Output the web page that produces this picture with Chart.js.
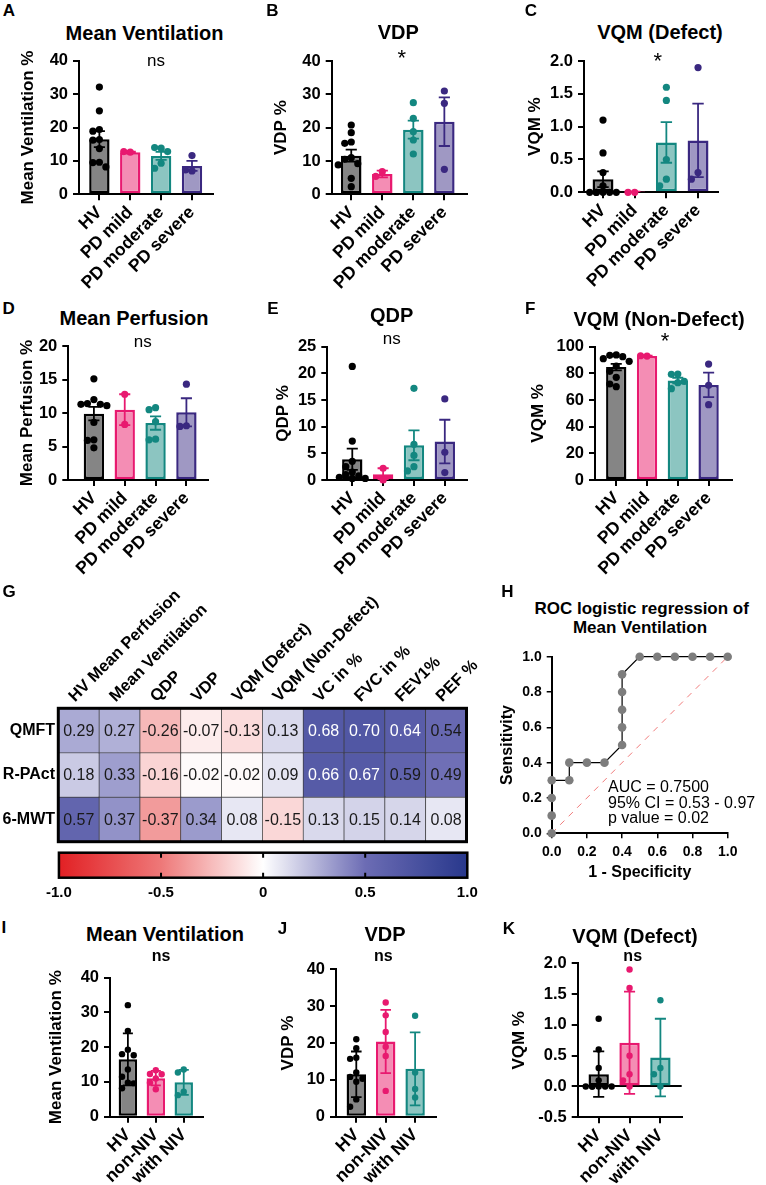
<!DOCTYPE html>
<html>
<head>
<meta charset="utf-8">
<script src="https://cdn.jsdelivr.net/npm/chart.js@4.4.0/dist/chart.umd.min.js"></script>
<style>
  body { margin: 0; background: #fff; }
  #fig { position: relative; width: 766px; height: 1185px; overflow: hidden; background: #fff;
         font-family: "Liberation Sans", Arial, sans-serif; color: #000; }
  #fig canvas { position: absolute; }
  .t { position: absolute; transform: translate(-50%, -50%); white-space: nowrap; line-height: 1; }
  .lt { font-weight: bold; font-size: 17px; }
  .ti { font-weight: bold; font-size: 20px; }
  .ns { font-size: 17px; }
  .st { font-size: 22px; }
  .nb { font-weight: bold; font-size: 16px; }
  .rt { font-weight: bold; font-size: 17px; }
  .an { position: absolute; left: 608px; font-size: 16px; white-space: nowrap; line-height: 1; transform: translateY(-50%); }
</style>
</head>
<body>
<div id="fig">
  <canvas id="cA"></canvas><canvas id="cB"></canvas><canvas id="cC"></canvas>
  <canvas id="cD"></canvas><canvas id="cE"></canvas><canvas id="cF"></canvas>
  <canvas id="cG"></canvas><canvas id="cBar"></canvas><canvas id="cH"></canvas>
  <canvas id="cI"></canvas><canvas id="cJ"></canvas><canvas id="cK"></canvas>

  <!-- panel letters, titles, significance -->
  <div class="t lt" style="left:9px;top:10px">A</div>
  <div class="t ti" style="left:144.5px;top:32.7px">Mean Ventilation</div>
  <div class="t ns" style="left:156px;top:59.5px">ns</div>

  <div class="t lt" style="left:272.5px;top:9.5px">B</div>
  <div class="t ti" style="left:398.3px;top:31.7px">VDP</div>
  <div class="t st" style="left:401.7px;top:58px">*</div>

  <div class="t lt" style="left:531px;top:9.7px">C</div>
  <div class="t ti" style="left:660px;top:31.7px">VQM (Defect)</div>
  <div class="t st" style="left:657.7px;top:61.3px">*</div>

  <div class="t lt" style="left:8.7px;top:307.8px">D</div>
  <div class="t ti" style="left:134px;top:318.3px">Mean Perfusion</div>
  <div class="t ns" style="left:142.7px;top:340.8px">ns</div>

  <div class="t lt" style="left:272.8px;top:308px">E</div>
  <div class="t ti" style="left:391.7px;top:315px">QDP</div>
  <div class="t ns" style="left:391.7px;top:337.5px">ns</div>

  <div class="t lt" style="left:530.3px;top:308px">F</div>
  <div class="t ti" style="left:659px;top:319px">VQM (Non-Defect)</div>
  <div class="t st" style="left:665px;top:340.6px">*</div>

  <div class="t lt" style="left:9.2px;top:590.8px">G</div>
  <div class="t lt" style="left:507.5px;top:590.8px">H</div>
  <div class="t rt" style="left:641.7px;top:608.3px">ROC logistic regression of</div>
  <div class="t rt" style="left:640px;top:626.7px">Mean Ventilation</div>
  <div class="an" style="top:787px">AUC = 0.7500</div>
  <div class="an" style="top:803.3px">95% CI = 0.53 - 0.97</div>
  <div class="an" style="top:817.5px">p value = 0.02</div>

  <div class="t lt" style="left:3.8px;top:926.7px">I</div>
  <div class="t ti" style="left:165px;top:934px">Mean Ventilation</div>
  <div class="t nb" style="left:161px;top:956px">ns</div>

  <div class="t lt" style="left:282.5px;top:928px">J</div>
  <div class="t ti" style="left:385px;top:934px">VDP</div>
  <div class="t nb" style="left:383.3px;top:955.5px">ns</div>

  <div class="t lt" style="left:509px;top:928px">K</div>
  <div class="t ti" style="left:635px;top:936px">VQM (Defect)</div>
  <div class="t nb" style="left:632.7px;top:956px">ns</div>
</div>

<script>
// ── groups ──
const groupsPD = ['HV', 'PD mild', 'PD moderate', 'PD severe'];
const groupsNIV = ['HV', 'non-NIV', 'with NIV'];

// ── A: mean ventilation (mean ± SEM) ──
const ventMean = [16.5, 12.6, 11.5, 8.5];
const ventSem = [2.4, 0.15, 1.2, 1.5];
const ventHV = [32.1, 25.0, 19.4, 18.9, 16.4, 16.2, 13.7, 9.6, 9.5, 8.2];
const ventMild = [12.6, 12.8];
const ventMod = [13.8, 14.0, 12.8, 9.3, 7.8];
const ventSev = [11.6, 7.0, 7.3];
const ventTicks = [0, 10, 20, 30, 40];

// ── B: VDP ──
const vdpMean = [11.6, 6.1, 19.4, 21.8];
const vdpSem = [1.8, 1.0, 2.7, 7.3];
const vdpHV = [20.8, 18.5, 15.7, 15.3, 11.0, 10.5, 9.2, 8.8, 4.8, 2.3];
const vdpMild = [6.8, 5.4];
const vdpMod = [27.5, 22.8, 18.8, 16.3, 12.1];
const vdpSev = [31.0, 27.3, 7.5];
const vdpTicks = [0, 10, 20, 30, 40];

// ── C: VQM (Defect) ──
const vqmdMean = [0.20, 0.01, 0.76, 0.79];
const vqmdSem = [0.12, 0.0, 0.31, 0.56];
const vqmdHV = [1.1, 0.6, 0.3, 0.1, 0.0, 0.0, 0.0, 0.0, 0.0, 0.0];
const vqmdMild = [0.0, 0.0];
const vqmdMod = [1.6, 1.4, 0.5, 0.2, 0.1];
const vqmdSev = [1.9, 0.3, 0.2];
const vqmdTicks = [0, 0.5, 1, 1.5, 2];

// ── D: mean perfusion ──
const perfMean = [9.9, 10.5, 8.5, 10.1];
const perfSem = [1.0, 2.3, 1.0, 2.1];
const perfHV = [15.1, 12.0, 11.4, 11.3, 11.3, 11.1, 8.6, 6.0, 5.9, 4.8];
const perfMild = [12.8, 8.3];
const perfMod = [10.8, 10.5, 8.7, 6.1, 6.0];
const perfSev = [14.3, 8.1, 8.0];
const perfTicks = [0, 5, 10, 15, 20];

// ── E: QDP ──
const qdpMean = [3.9, 1.1, 6.5, 7.2];
const qdpSem = [2.0, 1.1, 2.8, 4.1];
const qdpHV = [21.3, 7.3, 3.5, 2.5, 1.5, 1.0, 0.8, 0.5, 0.3, 0.3];
const qdpMild = [2.2, 0.0];
const qdpMod = [17.2, 6.7, 4.6, 2.5, 1.7];
const qdpSev = [15.2, 5.2, 1.4];
const qdpTicks = [0, 5, 10, 15, 20, 25];

// ── F: VQM (Non-Defect) ──
const vqmnMean = [84.7, 93.0, 74.6, 71.3];
const vqmnSem = [2.4, 0.3, 2.1, 9.2];
const vqmnHV = [93.8, 93.5, 92.5, 91.0, 89.0, 85.5, 81.5, 77.0, 72.0, 70.0];
const vqmnMild = [93.0, 93.2];
const vqmnMod = [79.5, 79.3, 74.0, 73.0, 68.5];
const vqmnSev = [87.0, 71.0, 56.5];
const vqmnTicks = [0, 20, 40, 60, 80, 100];

// ── G: correlation heatmap ──
const corrCols = ['HV Mean Perfusion', 'Mean Ventilation', 'QDP', 'VDP', 'VQM (Defect)',
                  'VQM (Non-Defect)', 'VC in %', 'FVC in %', 'FEV1%', 'PEF %'];
const corrRows = ['QMFT', 'R-PAct', '6-MWT'];
const corrQMFT = [0.29, 0.27, -0.26, -0.07, -0.13, 0.13, 0.68, 0.70, 0.64, 0.54];
const corrRPAct = [0.18, 0.33, -0.16, -0.02, -0.02, 0.09, 0.66, 0.67, 0.59, 0.49];
const corr6MWT = [0.57, 0.37, -0.37, 0.34, 0.08, -0.15, 0.13, 0.15, 0.14, 0.08];
const colorbarTicks = [-1, -0.5, 0, 0.5, 1];

// ── H: ROC ──
const rocFpr = [0, 0, 0, 0, 0.1, 0.1, 0.2, 0.3, 0.4, 0.4, 0.4, 0.4, 0.4, 0.5, 0.6, 0.7, 0.8, 0.9, 1.0];
const rocSens = [0, 0.1, 0.2, 0.3, 0.3, 0.4, 0.4, 0.4, 0.5, 0.6, 0.7, 0.8, 0.9, 1.0, 1.0, 1.0, 1.0, 1.0, 1.0];
const rocTicks = [0, 0.2, 0.4, 0.6, 0.8, 1];
const chanceX = [0, 1];
const chanceY = [0, 1];

// ── I: mean ventilation by NIV (mean ± SD) ──
const nivVentMean = [16.5, 11.1, 9.9];
const nivVentSd = [7.5, 2.1, 3.6];
const nivVentHV = [32.1, 24.7, 19.3, 18.0, 17.7, 13.6, 11.5, 9.8, 9.6, 8.2];
const nivVentNon = [13.4, 12.3, 12.2, 11.0, 9.8, 7.9];
const nivVentWith = [13.6, 12.7, 7.2, 6.2];

// ── J: VDP by NIV ──
const nivVdpMean = [11.5, 20.4, 13.0];
const nivVdpSd = [6.2, 8.6, 9.9];
const nivVdpHV = [21.0, 18.6, 16.0, 15.7, 12.0, 10.8, 10.3, 9.5, 4.7, 2.7];
const nivVdpNon = [31.0, 27.5, 23.0, 19.0, 16.5, 7.0];
const nivVdpWith = [27.4, 12.0, 7.5, 5.2];

// ── K: VQM (Defect) by NIV ──
const nivVqmMean = [0.20, 0.71, 0.47];
const nivVqmSd = [0.37, 0.83, 0.63];
const nivVqmHV = [1.1, 0.6, 0.3, 0.1, 0.0, 0.0, 0.0, 0.0, 0.0, 0.0];
const nivVqmNon = [1.9, 1.6, 0.5, 0.2, 0.1, 0.0];
const nivVqmWith = [1.4, 0.3, 0.2, 0.0];
const nivVqmTicks = [-0.5, 0, 0.5, 1, 1.5, 2];

Chart.defaults.font.family = '"Liberation Sans", Arial, sans-serif';
Chart.defaults.color = '#000';

// group colours (fill / outline+dots)
const pdFills = ['#858585', '#f48db4', '#8cc5c1', '#9f98c3'];
const pdLines = ['#000000', '#e8196f', '#138780', '#3a2880'];
const nivFills = pdFills.slice(0, 3);
const nivLines = pdLines.slice(0, 3);

// where each plot area sits on the page
const LAYOUT = {
  A: { ax: 79, right: 213.3, top: 60.7, bottom: 194.3, off: 50.7, xMin: -0.66, xMax: 3.69 },
  B: { ax: 331.7, right: 466.7, top: 61, bottom: 194.3, off: 50, xMin: -0.63, xMax: 3.72 },
  C: { ax: 584, right: 718, top: 61, bottom: 192.3, off: 48.3, xMin: -0.6, xMax: 3.63 },
  D: { ax: 68.3, right: 208.3, top: 346, bottom: 480, off: 40.6, xMin: -0.83, xMax: 3.71 },
  E: { ax: 327.3, right: 466.7, top: 346.7, bottom: 480, off: 44, xMin: -0.81, xMax: 3.71 },
  F: { ax: 595, right: 731.7, top: 346.7, bottom: 480, off: 56.7, xMin: -0.69, xMax: 3.75 },
  I: { ax: 110, right: 203.3, top: 977.7, bottom: 1116.7, off: 53.3, xMin: -0.64, xMax: 2.7 },
  J: { ax: 336, right: 435.7, top: 969.3, bottom: 1116.7, off: 47.7, xMin: -0.69, xMax: 2.7 },
  K: { ax: 577.7, right: 681.7, top: 963.3, bottom: 1117.3, off: 57.7, xMin: -0.68, xMax: 2.69 },
};

function place(canvas, r, lw, pt, pr, xh) {
  const left = Math.floor(r.ax - lw), top = Math.floor(r.top - pt);
  const width = Math.ceil(r.right + pr - left), height = Math.ceil(r.bottom + xh - top);
  canvas.style.left = left + 'px';
  canvas.style.top = top + 'px';
  canvas.width = width;
  canvas.height = height;
  return { yw: r.ax - left, padTop: r.top - top, padRight: left + width - r.right, xh: top + height - r.bottom };
}

// simple beeswarm: put a dot in the first free lane next to the bar centre
function swarm(vals, center, thr, step) {
  const lanes = [0, -1, 1, -2, 2];
  const placed = [];
  return vals.map(v => {
    let best = 0, bestHits = Infinity;
    for (const s of lanes) {
      const hits = placed.filter(p => p.s === s && Math.abs(p.v - v) < thr).length;
      if (hits < bestHits) { best = s; bestHits = hits; if (!hits) break; }
    }
    placed.push({ v, s: best });
    return { x: center + best * step, y: v };
  });
}

function errorBar(i, m, e, color, cw) {
  return {
    type: 'scatter', showLine: true, spanGaps: false, borderColor: color, borderWidth: 1.8,
    pointRadius: 0, order: 2,
    data: [
      { x: i, y: m - e }, { x: i, y: m + e }, { x: i, y: null },
      { x: i - cw, y: m + e }, { x: i + cw, y: m + e }, { x: i, y: null },
      { x: i - cw, y: m - e }, { x: i + cw, y: m - e },
    ],
  };
}

function barPanel(id, p) {
  const canvas = document.getElementById(id);
  const r = p.rect;
  const g = place(canvas, r, r.off + 10.2, 16, 12, 100);
  const yMin = p.yTicks[0], yMax = p.yTicks[p.yTicks.length - 1];
  const thr = 7.5 * (yMax - yMin) / (r.bottom - r.top);

  const datasets = [{
    type: 'bar',
    data: p.means.map((m, i) => ({ x: i, y: m })),
    backgroundColor: p.fills, borderColor: p.lines, borderWidth: 2.5, borderSkipped: false,
    barPercentage: 0.66, categoryPercentage: 1, order: 3,
  }];
  p.errs.forEach((e, i) => datasets.push(errorBar(i, p.means[i], e, p.lines[i], 0.18)));
  p.points.forEach((vals, i) => datasets.push({
    type: 'scatter', data: swarm(vals, i, thr, 0.21),
    backgroundColor: p.lines[i], pointRadius: p.dot, pointBorderWidth: 0, order: 1, clip: false,
  }));

  const zeroLine = !!p.zeroLine;
  new Chart(canvas, {
    type: 'bar',
    data: { datasets },
    options: {
      responsive: false, animation: false, devicePixelRatio: 1,
      layout: { padding: { top: g.padTop, right: g.padRight, left: 0, bottom: 0 } },
      plugins: { legend: { display: false }, tooltip: { enabled: false } },
      scales: {
        x: {
          type: 'linear', min: r.xMin, max: r.xMax, offset: false,
          afterBuildTicks: s => { s.ticks = p.labels.map((_, i) => ({ value: i })); },
          afterFit: s => { s.height = g.xh; },
          ticks: { callback: v => p.labels[v], minRotation: 45, maxRotation: 45, autoSkip: false,
                   padding: 2, font: { size: 17.5, weight: 'bold' }, color: '#000' },
          grid: { display: true, drawOnChartArea: false, drawTicks: true, tickLength: 6,
                  lineWidth: 2, color: '#000', offset: false },
          border: { display: true, color: '#000', width: 2 },
        },
        y: {
          type: 'linear', min: yMin, max: yMax,
          afterBuildTicks: s => { s.ticks = p.yTicks.map(v => ({ value: v })); },
          afterFit: s => { s.width = g.yw; },
          ticks: { callback: p.fmt, padding: 5, autoSkip: false,
                   font: { size: 16.5, weight: 'bold' }, color: '#000' },
          grid: {
            display: true, drawOnChartArea: zeroLine, drawTicks: true, tickLength: 6, lineWidth: 2,
            tickColor: '#000',
            color: c => (zeroLine && c.tick && Math.abs(c.tick.value) < 1e-9) ? '#000' : 'rgba(0,0,0,0)',
          },
          border: { display: true, color: '#000', width: 2 },
          title: { display: true, text: p.yTitle, font: { size: 17, weight: 'bold' }, padding: 0, color: '#000' },
        },
      },
    },
  });
}

const intFmt = v => String(Math.round(v));
const oneDec = v => v.toFixed(1);

barPanel('cA', { rect: LAYOUT.A, labels: groupsPD, means: ventMean, errs: ventSem,
  points: [ventHV, ventMild, ventMod, ventSev], fills: pdFills, lines: pdLines,
  yTicks: ventTicks, fmt: intFmt, yTitle: 'Mean Ventilation %', dot: 3.6 });
barPanel('cB', { rect: LAYOUT.B, labels: groupsPD, means: vdpMean, errs: vdpSem,
  points: [vdpHV, vdpMild, vdpMod, vdpSev], fills: pdFills, lines: pdLines,
  yTicks: vdpTicks, fmt: intFmt, yTitle: 'VDP %', dot: 3.6 });
barPanel('cC', { rect: LAYOUT.C, labels: groupsPD, means: vqmdMean, errs: vqmdSem,
  points: [vqmdHV, vqmdMild, vqmdMod, vqmdSev], fills: pdFills, lines: pdLines,
  yTicks: vqmdTicks, fmt: oneDec, yTitle: 'VQM %', dot: 3.6 });
barPanel('cD', { rect: LAYOUT.D, labels: groupsPD, means: perfMean, errs: perfSem,
  points: [perfHV, perfMild, perfMod, perfSev], fills: pdFills, lines: pdLines,
  yTicks: perfTicks, fmt: intFmt, yTitle: 'Mean Perfusion %', dot: 3.6 });
barPanel('cE', { rect: LAYOUT.E, labels: groupsPD, means: qdpMean, errs: qdpSem,
  points: [qdpHV, qdpMild, qdpMod, qdpSev], fills: pdFills, lines: pdLines,
  yTicks: qdpTicks, fmt: intFmt, yTitle: 'QDP %', dot: 3.6 });
barPanel('cF', { rect: LAYOUT.F, labels: groupsPD, means: vqmnMean, errs: vqmnSem,
  points: [vqmnHV, vqmnMild, vqmnMod, vqmnSev], fills: pdFills, lines: pdLines,
  yTicks: vqmnTicks, fmt: intFmt, yTitle: 'VQM %', dot: 3.6 });
barPanel('cI', { rect: LAYOUT.I, labels: groupsNIV, means: nivVentMean, errs: nivVentSd,
  points: [nivVentHV, nivVentNon, nivVentWith], fills: nivFills, lines: nivLines,
  yTicks: ventTicks, fmt: intFmt, yTitle: 'Mean Ventilation %', dot: 3.2 });
barPanel('cJ', { rect: LAYOUT.J, labels: groupsNIV, means: nivVdpMean, errs: nivVdpSd,
  points: [nivVdpHV, nivVdpNon, nivVdpWith], fills: nivFills, lines: nivLines,
  yTicks: vdpTicks, fmt: intFmt, yTitle: 'VDP %', dot: 3.2 });
barPanel('cK', { rect: LAYOUT.K, labels: groupsNIV, means: nivVqmMean, errs: nivVqmSd,
  points: [nivVqmHV, nivVqmNon, nivVqmWith], fills: nivFills, lines: nivLines,
  yTicks: nivVqmTicks, fmt: oneDec, yTitle: 'VQM %', dot: 3.2, zeroLine: true });

// ── heatmap colours: red → white → blue ──
function corrColor(v) {
  const stops = v < 0
    ? [[255, 255, 255], [238, 120, 120], [226, 32, 36]]
    : [[255, 255, 255], [108, 108, 180], [40, 56, 140]];
  const a = Math.min(Math.abs(v), 1) * 2;
  const k = a < 1 ? 0 : 1, f = a < 1 ? a : a - 1;
  const c = stops[k].map((s, j) => Math.round(s + (stops[k + 1][j] - s) * f));
  return `rgb(${c[0]},${c[1]},${c[2]})`;
}

const framePlugin = {
  id: 'frame',
  afterDatasetsDraw(chart, args, opts) {
    const { ctx, chartArea: a } = chart;
    ctx.save();
    ctx.strokeStyle = '#000';
    ctx.lineWidth = opts.width || 2;
    ctx.strokeRect(a.left, a.top, a.right - a.left, a.bottom - a.top);
    ctx.restore();
  },
};

const cellText = {
  id: 'cellText',
  afterDatasetsDraw(chart) {
    const ctx = chart.ctx;
    ctx.save();
    ctx.font = '16px "Liberation Sans", Arial, sans-serif';
    ctx.textAlign = 'center';
    ctx.textBaseline = 'middle';
    chart.data.datasets.forEach((ds, r) => {
      chart.getDatasetMeta(r).data.forEach((el, c) => {
        const v = ds.values[c];
        ctx.fillStyle = v >= 0.6 ? '#fff' : '#1a1a1a';
        ctx.fillText(v.toFixed(2), el.x, (el.y + el.base) / 2 + 1);
      });
    });
    ctx.restore();
  },
};

// ── G: heatmap ──
(function () {
  const canvas = document.getElementById('cG');
  const r = { ax: 58.3, right: 466.5, top: 708.3, bottom: 841.7 };
  const left = 0, top = 585, width = 497, height = 271;
  canvas.style.left = left + 'px';
  canvas.style.top = top + 'px';
  canvas.width = width;
  canvas.height = height;
  const rowsData = [corrQMFT, corrRPAct, corr6MWT];
  new Chart(canvas, {
    type: 'bar',
    data: {
      labels: corrCols,
      datasets: rowsData.map((vals, ri) => ({
        values: vals,
        data: vals.map(() => [ri - 0.5, ri + 0.5]),
        backgroundColor: vals.map(corrColor),
        borderColor: '#3a3a3a', borderWidth: 0.7, borderSkipped: false,
        barPercentage: 1, categoryPercentage: 1, grouped: false,
      })),
    },
    options: {
      responsive: false, animation: false, devicePixelRatio: 1,
      layout: { padding: { top: 0, left: 0, right: left + width - r.right, bottom: top + height - r.bottom } },
      plugins: { legend: { display: false }, tooltip: { enabled: false }, frame: { width: 3 } },
      scales: {
        x: {
          type: 'category', position: 'top', offset: true,
          afterFit: s => { s.height = r.top - top; },
          ticks: { minRotation: 45, maxRotation: 45, autoSkip: false, padding: 2, labelOffset: 7,
                   font: { size: 16.5, weight: 'bold' }, color: '#000' },
          grid: { display: false, drawTicks: false },
          border: { display: false },
        },
        y: {
          type: 'linear', min: -0.5, max: 2.5, reverse: true,
          afterBuildTicks: s => { s.ticks = corrRows.map((_, i) => ({ value: i })); },
          afterFit: s => { s.width = r.ax - left; },
          ticks: { callback: v => corrRows[v], padding: 3.3, font: { size: 16, weight: 'bold' }, color: '#000' },
          grid: { display: false, drawTicks: false },
          border: { display: false },
        },
      },
    },
    plugins: [framePlugin, cellText],
  });
})();

// ── colour bar ──
(function () {
  const canvas = document.getElementById('cBar');
  const r = { left: 57.3, right: 467.3, top: 852.7, bottom: 877.7 };
  const left = 40, top = 846, width = 450, height = 57;
  canvas.style.left = left + 'px';
  canvas.style.top = top + 'px';
  canvas.width = width;
  canvas.height = height;
  const inner = {
    id: 'innerTicks',
    afterDatasetsDraw(chart) {
      const { ctx, chartArea: a, scales: { x } } = chart;
      ctx.save();
      ctx.strokeStyle = '#000';
      ctx.lineWidth = 2;
      colorbarTicks.slice(1, -1).forEach(v => {
        const px = x.getPixelForValue(v);
        ctx.beginPath();
        ctx.moveTo(px, a.top); ctx.lineTo(px, a.top + 5);
        ctx.moveTo(px, a.bottom - 5); ctx.lineTo(px, a.bottom);
        ctx.stroke();
      });
      ctx.restore();
    },
  };
  new Chart(canvas, {
    type: 'bar',
    data: {
      labels: [''],
      datasets: [{
        data: [[colorbarTicks[0], colorbarTicks[colorbarTicks.length - 1]]],
        backgroundColor: c => {
          const ch = c.chart, xs = ch.scales.x;
          if (!xs || !ch.chartArea) return '#fff';
          const grad = ch.ctx.createLinearGradient(xs.getPixelForValue(-1), 0, xs.getPixelForValue(1), 0);
          for (let k = 0; k <= 40; k++) grad.addColorStop(k / 40, corrColor(-1 + k / 20));
          return grad;
        },
        borderWidth: 0, barPercentage: 1, categoryPercentage: 1,
      }],
    },
    options: {
      indexAxis: 'y', responsive: false, animation: false, devicePixelRatio: 1,
      layout: { padding: { left: r.left - left, right: left + width - r.right, top: r.top - top,
                           bottom: top + height - r.bottom - 25 } },
      plugins: { legend: { display: false }, tooltip: { enabled: false }, frame: { width: 2.5 } },
      scales: {
        x: {
          type: 'linear', min: -1, max: 1,
          afterBuildTicks: s => { s.ticks = colorbarTicks.map(v => ({ value: v })); },
          afterFit: s => { s.height = 25; },
          ticks: { callback: v => (v === 0 ? '0' : v.toFixed(1)), padding: 6,
                   font: { size: 15, weight: 'bold' }, color: '#000' },
          grid: { display: false, drawTicks: false },
          border: { display: false },
        },
        y: { display: false },
      },
    },
    plugins: [framePlugin, inner],
  });
})();

// ── H: ROC curve ──
(function () {
  const canvas = document.getElementById('cH');
  const r = { ax: 551.7, right: 727.7, top: 656.7, bottom: 833.3 };
  const g = place(canvas, r, 53, 16, 22, 48);
  const axisStyle = {
    grid: { display: true, drawOnChartArea: false, drawTicks: true, tickLength: 5, lineWidth: 1.5, color: '#000' },
    border: { display: true, color: '#000', width: 2 },
  };
  const tickOpts = { callback: oneDec, padding: 5, autoSkip: false, font: { size: 14, weight: 'bold' }, color: '#000' };
  new Chart(canvas, {
    type: 'scatter',
    data: {
      datasets: [
        { data: rocFpr.map((x, i) => ({ x, y: rocSens[i] })), showLine: true, borderColor: '#000',
          borderWidth: 1.2, pointRadius: 4.3, pointBackgroundColor: '#7d7d7d', pointBorderWidth: 0,
          clip: false, order: 1 },
        { data: chanceX.map((x, i) => ({ x, y: chanceY[i] })), showLine: true, borderColor: '#f07b7b',
          borderWidth: 1, borderDash: [6, 6], pointRadius: 0, order: 2 },
      ],
    },
    options: {
      responsive: false, animation: false, devicePixelRatio: 1,
      layout: { padding: { top: g.padTop, right: g.padRight, left: 0, bottom: 0 } },
      plugins: { legend: { display: false }, tooltip: { enabled: false } },
      scales: {
        x: Object.assign({
          type: 'linear', min: 0, max: 1,
          afterBuildTicks: s => { s.ticks = rocTicks.map(v => ({ value: v })); },
          afterFit: s => { s.height = g.xh; },
          ticks: tickOpts,
          title: { display: true, text: '1 - Specificity', font: { size: 16, weight: 'bold' }, padding: 0, color: '#000' },
        }, axisStyle),
        y: Object.assign({
          type: 'linear', min: 0, max: 1,
          afterBuildTicks: s => { s.ticks = rocTicks.map(v => ({ value: v })); },
          afterFit: s => { s.width = g.yw; },
          ticks: tickOpts,
          title: { display: true, text: 'Sensitivity', font: { size: 16, weight: 'bold' }, padding: 0, color: '#000' },
        }, axisStyle),
      },
    },
  });
})();
</script>
</body>
</html>
